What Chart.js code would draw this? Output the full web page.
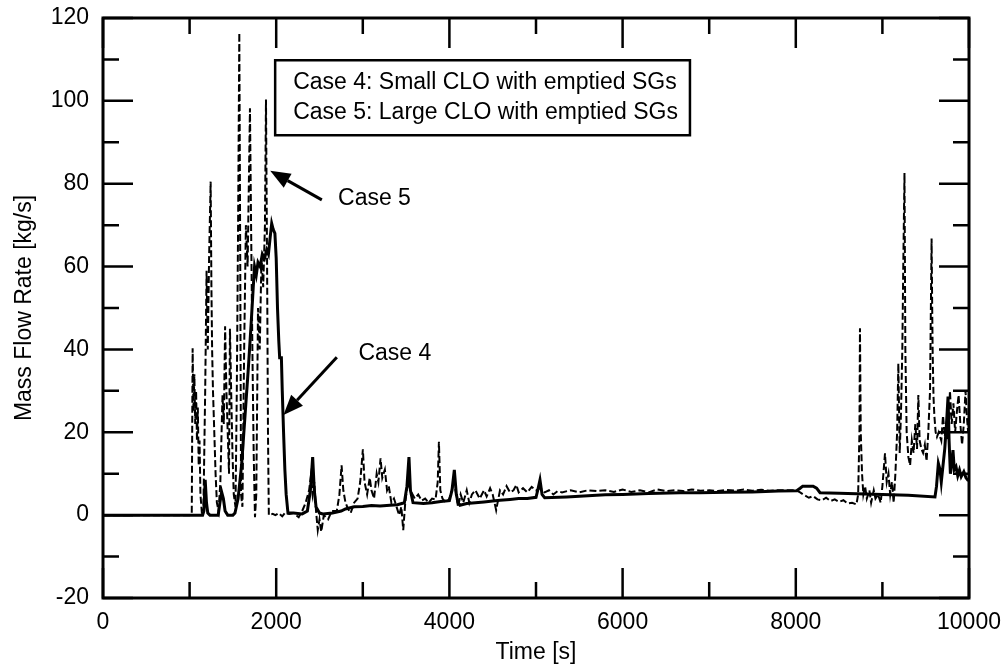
<!DOCTYPE html>
<html>
<head>
<meta charset="utf-8">
<title>Mass Flow Rate</title>
<script src="https://cdn.jsdelivr.net/npm/chart.js@4.4.1/dist/chart.umd.min.js"></script>
<style>
  body { margin: 0; background: #fff; }
  canvas { display: block; }
</style>
</head>
<body>
<canvas id="flow" width="1006" height="670"></canvas>
<script>
// Case 4: small CLO with emptied SGs (solid)
var case4Time = [0, 1000, 1150, 1165, 1180, 1195, 1210, 1235, 1330, 1350, 1370, 1390, 1410, 1440, 1500,
  1524, 1560, 1600, 1640, 1680, 1710, 1735, 1750, 1770, 1790, 1815, 1840, 1865, 1890, 1910, 1930, 1948,
  1965, 1985, 2000, 2015, 2030, 2040, 2060, 2070, 2085, 2100, 2115, 2136, 2200, 2300, 2360, 2395, 2421,
  2440, 2460, 2500, 2540, 2650, 2750, 2800, 2900, 3000, 3100, 3200, 3314, 3400, 3480, 3510, 3533, 3550,
  3580, 3700, 3800, 3900, 4000, 4030, 4057, 4080, 4100, 4122, 4200, 4300, 4400, 4500, 4584, 4700, 4800,
  4900, 5000, 5020, 5046, 5070, 5100, 5354, 5600, 5800, 6000, 6300, 6663, 6894, 7200, 7500, 7800, 8010,
  8050, 8080, 8200, 8240, 8280, 8500, 8800, 9000, 9300, 9607, 9625, 9646, 9665, 9680, 9700, 9720, 9740,
  9758, 9770, 9785, 9800, 9815, 9830, 9850, 9870, 9890, 9910, 9940, 9965, 9985, 10000];
var case4Flow = [0, 0, 0, 1, 8.5, 3, 0.5, 0, 0, 3, 5.6, 4, 1, 0, 0,
  0.5, 4, 12, 24, 36, 46, 55, 60, 58, 61, 60, 63, 62, 64, 63, 67, 70.4,
  69, 68, 62, 50, 42, 38, 38, 30, 20, 11, 5, 0.5, 0.5, 0.3, 1, 6, 14,
  6, 2, 0.5, 0.3, 0.5, 1, 1.5, 2, 2.1, 2.3, 2.2, 2.4, 2.5, 3, 7, 14, 6,
  3, 2.8, 3, 3.3, 3.5, 6, 10.9, 5, 3, 2.4, 2.8, 3, 3.2, 3.4, 3.6, 3.8, 4,
  4, 4.3, 6, 8.5, 5, 4.2, 4.4, 4.7, 4.9, 5, 5.2, 5.4, 5.4, 5.5, 5.6, 5.8, 5.9,
  6.5, 7, 7, 6.5, 5.4, 5.3, 5.1, 5, 4.8, 4.4, 7, 12.5, 11, 8, 12, 16, 22,
  28.6, 18, 10, 12.5, 15.7, 11, 11.7, 9.5, 10.9, 9.3, 10.5, 9, 8.5, 8.5];

// Case 5: large CLO with emptied SGs (dashed)
var case5Time = [0, 1000, 1025, 1035, 1045, 1055, 1065, 1075, 1085, 1095, 1105, 1115, 1125, 1140, 1160,
  1180, 1196, 1210, 1225, 1243, 1252, 1260, 1270, 1285, 1300, 1315, 1335, 1355, 1380, 1395, 1410, 1425,
  1440, 1455, 1466, 1480, 1495, 1510, 1530, 1545, 1560, 1574, 1585, 1594, 1610, 1630, 1650, 1670, 1697,
  1710, 1725, 1740, 1755, 1770, 1790, 1810, 1830, 1850, 1870, 1882, 1895, 1905, 1915, 1960, 1990, 2030,
  2070, 2100, 2150, 2200, 2260, 2300, 2340, 2380, 2400, 2420, 2440, 2460, 2480, 2500, 2520, 2550, 2600,
  2640, 2700, 2730, 2755, 2775, 2800, 2830, 2860, 2900, 2940, 2970, 3001, 3020, 3050, 3080, 3100, 3130,
  3160, 3180, 3205, 3225, 3255, 3280, 3300, 3330, 3360, 3390, 3420, 3445, 3467, 3490, 3520, 3550, 3600,
  3640, 3680, 3720, 3760, 3800, 3840, 3865, 3879, 3895, 3920, 3960, 4000, 4040, 4070, 4100, 4130, 4160,
  4200, 4230, 4260, 4300, 4350, 4400, 4430, 4470, 4500, 4540, 4584, 4620, 4660, 4700, 4740, 4773, 4800,
  4850, 4900, 4950, 5000, 5050, 5100, 5150, 5200, 5250, 5300, 5400, 5500, 5600, 5700, 5800, 5900, 6000,
  6100, 6200, 6300, 6400, 6500, 6600, 6700, 6800, 6900, 7000, 7100, 7200, 7300, 7400, 7500, 7600, 7700,
  7800, 7900, 8000, 8050, 8100, 8150, 8200, 8250, 8300, 8350, 8400, 8450, 8500, 8550, 8600, 8650, 8700,
  8720, 8735, 8741, 8750, 8765, 8780, 8800, 8820, 8850, 8870, 8900, 8920, 8950, 8980, 9000, 9030, 9050,
  9070, 9090, 9110, 9130, 9150, 9170, 9184, 9200, 9215, 9230, 9241, 9255, 9265, 9280, 9300, 9320, 9340,
  9360, 9380, 9400, 9415, 9430, 9450, 9470, 9490, 9510, 9530, 9550, 9568, 9575, 9580, 9590, 9600, 9615,
  9630, 9650, 9680, 9700, 9720, 9740, 9760, 9780, 9800, 9820, 9840, 9860, 9880, 9900, 9920, 9940, 9960,
  9975, 9990, 10000];
var case5Flow = [0, 0, 0.5, 40.3, 25, 34, 22, 30, 18, 26, 12, 18, 5, 1, 2,
  30, 59, 40, 62, 80.5, 55, 40, 30, 20, 10, 3, 1, 8, 29, 22, 45.6, 30,
  20, 10, 45, 30, 15, 5, 2, 30, 70, 116.4, 60, 5, 2, 40, 70, 60, 98.2,
  70, 40, 15, -0.5, 5, 50, 40, 62, 55, 70, 100.3, 60, 20, 0, 0.3, 0, 0.5,
  -0.3, 0.5, 0.3, 0.5, -0.5, 1, 3, 6, 9.3, 5, 8, 1, -3.6, -1, -4, 0, -1,
  1, 1, 5, 12, 6, 3, 1.5, 0.5, 3, 4, 8, 15.9, 8, 5, 9, 6, 4,
  10, 8, 13.7, 9, 11, 6, 7, 3, 4, 2, 0, 2, -3.6, 3, 8, 6, 4,
  5, 3.5, 4, 3, 4, 3.8, 8, 17.7, 6, 4, 3, 4, 7, 6, 2, 5, 3,
  6, 3, 5, 6, 4, 6, 4.5, 6.5, 5, 1.2, 6, 5, 7, 5.5, 6, 7.3, 5.5,
  6.5, 5.5, 6.8, 6, 6.5, 5.5, 6, 5, 5.8, 5.5, 6, 5.5, 6, 5.8, 6, 5.6, 6.2,
  5.6, 6, 5.5, 6.2, 5.8, 6, 5.8, 6.2, 5.9, 6, 5.8, 6.1, 5.9, 6.2, 5.9, 6.1, 5.9,
  6, 6, 6, 5.5, 4.8, 4.2, 4.6, 3.8, 3.6, 4.2, 3.4, 3.8, 3.2, 3.6, 2.8, 3, 2.6,
  5, 20, 45.1, 20, 10, 5, 7, 4, 6, 3, 6, 4, 5, 3, 7, 14.9, 8,
  10, 5, 8, 3, 10, 20, 36.6, 15, 25, 40, 60, 82.6, 40, 20, 14, 12, 18,
  15, 22, 16, 29, 18, 16, 15, 17, 13, 20, 30, 66.8, 50, 40, 28.6, 24, 20,
  18.9, 20, 18, 24, 19, 22, 18, 30, 22, 27, 20, 25, 29, 22, 17, 22, 30,
  24, 20, 22];

var xTicks = [0, 2000, 4000, 6000, 8000, 10000];
var xMinorTicks = [1000, 3000, 5000, 7000, 9000];
var yTicks = [-20, 0, 20, 40, 60, 80, 100, 120];
var yMinorTicks = [-10, 10, 30, 50, 70, 90, 110];

var legendLines = ['Case 4: Small CLO with emptied SGs', 'Case 5: Large CLO with emptied SGs'];

// arrow callouts, in data units
var callouts = [
  { text: 'Case 5', tip: [1931, 83.1], tail: [2527, 76.1], label: [2714, 76.5] },
  { text: 'Case 4', tip: [2084, 24.2], tail: [2700, 38.1], label: [2950, 39.0] }
];

var FONT = "'Liberation Sans', Arial, Helvetica, sans-serif";

function toPoints(xs, ys) {
  return xs.map(function(x, i) { return { x: x, y: ys[i] }; });
}

// keep the plot box where the layout padding puts it, labels may hang over
function noOverhang(scale) {
  scale.paddingLeft = 0;
  scale.paddingRight = 0;
  scale.paddingTop = 0;
  scale.paddingBottom = 0;
}

// frame with inward ticks on all four sides, legend box and arrow callouts
var decorations = {
  id: 'decorations',
  afterDatasetsDraw: function(chart) {
    var ctx = chart.ctx;
    var area = chart.chartArea;
    var xs = chart.scales.x;
    var ys = chart.scales.y;

    ctx.save();
    ctx.strokeStyle = '#000';
    ctx.fillStyle = '#000';
    ctx.lineCap = 'butt';

    ctx.lineWidth = 2.5;
    function tickX(v, len) {
      var px = xs.getPixelForValue(v);
      ctx.beginPath();
      ctx.moveTo(px, area.bottom); ctx.lineTo(px, area.bottom - len);
      ctx.moveTo(px, area.top); ctx.lineTo(px, area.top + len);
      ctx.stroke();
    }
    function tickY(v, len) {
      var py = ys.getPixelForValue(v);
      ctx.beginPath();
      ctx.moveTo(area.left, py); ctx.lineTo(area.left + len, py);
      ctx.moveTo(area.right, py); ctx.lineTo(area.right - len, py);
      ctx.stroke();
    }
    xTicks.forEach(function(v) { tickX(v, 30); });
    xMinorTicks.forEach(function(v) { tickX(v, 16); });
    yTicks.forEach(function(v) { tickY(v, 30); });
    yMinorTicks.forEach(function(v) { tickY(v, 16); });

    ctx.lineWidth = 3;
    ctx.strokeRect(area.left, area.top, area.right - area.left, area.bottom - area.top);

    // legend box
    ctx.font = '23px ' + FONT;
    var boxLeft = xs.getPixelForValue(1988);
    var boxTop = ys.getPixelForValue(109.8);
    var boxBottom = ys.getPixelForValue(91.7);
    var textLeft = boxLeft + 18;
    var widest = 0;
    legendLines.forEach(function(s) { widest = Math.max(widest, ctx.measureText(s).width); });
    var boxWidth = textLeft + widest + 12 - boxLeft;
    ctx.fillStyle = '#fff';
    ctx.fillRect(boxLeft, boxTop, boxWidth, boxBottom - boxTop);
    ctx.fillStyle = '#000';
    ctx.lineWidth = 2.5;
    ctx.strokeRect(boxLeft, boxTop, boxWidth, boxBottom - boxTop);
    ctx.textBaseline = 'middle';
    ctx.textAlign = 'left';
    ctx.fillText(legendLines[0], textLeft, boxTop + 22);
    ctx.fillText(legendLines[1], textLeft, boxTop + 52);

    // callouts
    callouts.forEach(function(c) {
      var tx = xs.getPixelForValue(c.tip[0]), ty = ys.getPixelForValue(c.tip[1]);
      var sx = xs.getPixelForValue(c.tail[0]), sy = ys.getPixelForValue(c.tail[1]);
      var ang = Math.atan2(ty - sy, tx - sx);
      var head = 20, half = 8;
      var bx = tx - head * Math.cos(ang), by = ty - head * Math.sin(ang);
      ctx.lineWidth = 3;
      ctx.beginPath();
      ctx.moveTo(sx, sy);
      ctx.lineTo(bx, by);
      ctx.stroke();
      ctx.beginPath();
      ctx.moveTo(tx, ty);
      ctx.lineTo(bx + half * Math.sin(ang), by - half * Math.cos(ang));
      ctx.lineTo(bx - half * Math.sin(ang), by + half * Math.cos(ang));
      ctx.closePath();
      ctx.fill();
      ctx.fillText(c.text, xs.getPixelForValue(c.label[0]), ys.getPixelForValue(c.label[1]));
    });
    ctx.restore();
  }
};

var ctx = document.getElementById('flow').getContext('2d');

new Chart(ctx, {
  "type": "line",
  "data": {
    "datasets": [{
      "label": "Case 4",
      "data": toPoints(case4Time, case4Flow),
      "borderColor": "#000",
      "borderWidth": 3,
      "fill": false,
      "pointRadius": 0,
      "tension": 0
    }, {
      "label": "Case 5",
      "data": toPoints(case5Time, case5Flow),
      "borderColor": "#000",
      "borderWidth": 2,
      "borderDash": [7, 3],
      "fill": false,
      "pointRadius": 0,
      "tension": 0
    }]
  },
  "options": {
    "responsive": false,
    "animation": false,
    "layout": { "padding": { "top": 18, "right": 37, "left": 0, "bottom": 0 } },
    "plugins": {
      "legend": { "display": false },
      "tooltip": { "enabled": false }
    },
    "scales": {
      "x": {
        "type": "linear",
        "min": 0,
        "max": 10000,
        "afterBuildTicks": function(scale) {
          scale.ticks = xTicks.map(function(v) { return { value: v }; });
        },
        "afterFit": function(scale) { scale.height = 72; noOverhang(scale); },
        "grid": { "display": false, "drawTicks": false },
        "border": { "display": false },
        "ticks": {
          "autoSkip": false,
          "maxRotation": 0,
          "padding": 11,
          "color": "#000",
          "font": { "family": FONT, "size": 23 },
          "callback": function(v) { return String(v); }
        },
        "title": {
          "display": true,
          "text": "Time [s]",
          "color": "#000",
          "padding": { "top": 0, "bottom": 4 },
          "font": { "family": FONT, "size": 23 }
        }
      },
      "y": {
        "type": "linear",
        "min": -20,
        "max": 120,
        "afterBuildTicks": function(scale) {
          scale.ticks = yTicks.map(function(v) { return { value: v }; });
        },
        "afterFit": function(scale) { scale.width = 103; noOverhang(scale); },
        "grid": { "display": false, "drawTicks": false },
        "border": { "display": false },
        "ticks": {
          "autoSkip": false,
          "padding": 14,
          "color": "#000",
          "font": { "family": FONT, "size": 23 },
          "callback": function(v) { return String(v); }
        },
        "title": {
          "display": true,
          "text": "Mass Flow Rate [kg/s]",
          "color": "#000",
          "padding": { "top": 11, "bottom": 0 },
          "font": { "family": FONT, "size": 23 }
        }
      }
    }
  },
  "plugins": [decorations]
});
</script>
</body>
</html>
